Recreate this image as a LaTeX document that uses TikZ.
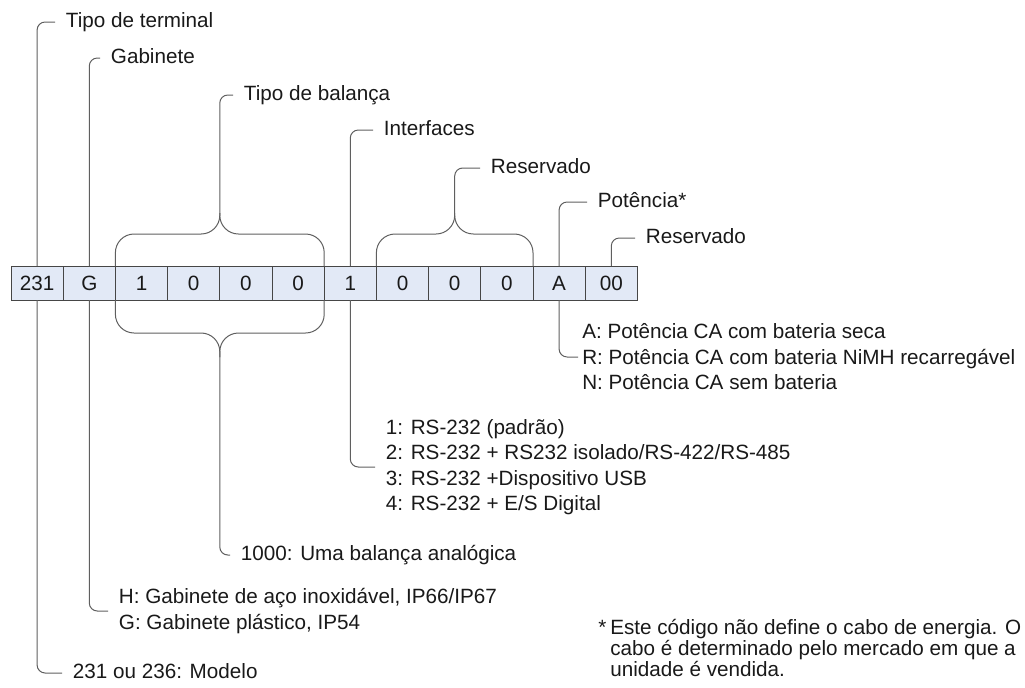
\documentclass[tikz,border=0pt]{standalone}
\usepackage{fontspec}
\setmainfont{Liberation Sans}
\usepackage{xcolor}
\definecolor{cellfill}{RGB}{226, 233, 246}
\definecolor{cellline}{RGB}{70, 70, 70}
\definecolor{leadgray}{RGB}{95, 95, 95}
\definecolor{textgray}{RGB}{25, 25, 25}
\usepackage{tikz}
\usetikzlibrary{positioning, calc}
\newcommand{\codefont}{\fontsize{15.5}{19.1}\selectfont}
\newcommand{\notefont}{\fontsize{15.5}{16.1}\selectfont}
\tikzset{
    cellbox/.style={
        draw=cellline,
        fill=cellfill,
        line width=0.7pt,
        minimum width=39.15pt,
        minimum height=25.5pt,
        inner sep=0pt,
        outer sep=0pt,
        text=textgray,
        font=\codefont
    },
    leader/.style={
        draw=leadgray,
        line width=0.75pt,
        rounded corners=6pt
    },
    brace/.style={
        draw=leadgray,
        line width=0.75pt,
        rounded corners=14pt
    },
    tag/.style={
        anchor=west,
        inner xsep=8pt,
        inner ysep=0pt,
        text height=11.6pt,
        text depth=3.1pt,
        text=textgray,
        font=\codefont
    },
    optlist/.style={
        anchor=west,
        inner xsep=8pt,
        inner ysep=0pt,
        align=left,
        text=textgray,
        font=\codefont
    }
}

\begin{document}
\begin{tikzpicture}[x=0.75pt, y=-0.75pt]
\useasboundingbox (0,0) rectangle (1025,687);

% ---------------------------------------------------------
% Code cells
% ---------------------------------------------------------
\node[cellbox] (c1) at (37.1,283) {231};
\node[cellbox, right=0pt of c1] (c2) {G};
\node[cellbox, right=0pt of c2] (c3) {1};
\node[cellbox, right=0pt of c3] (c4) {0};
\node[cellbox, right=0pt of c4] (c5) {0};
\node[cellbox, right=0pt of c5] (c6) {0};
\node[cellbox, right=0pt of c6] (c7) {1};
\node[cellbox, right=0pt of c7] (c8) {0};
\node[cellbox, right=0pt of c8] (c9) {0};
\node[cellbox, right=0pt of c9] (c10) {0};
\node[cellbox, right=0pt of c10] (c11) {A};
\node[cellbox, right=0pt of c11] (c12) {00};

% ---------------------------------------------------------
% Labels above
% ---------------------------------------------------------
\node[tag] (terminal) at (55,22) {Tipo de terminal};
\node[tag] (gabinete) at (100,58) {Gabinete};
\node[tag] (balanca) at (233,95) {Tipo de balança};
\node[tag] (interfaces) at (373,130) {Interfaces};
\node[tag] (reservA) at (480,168) {Reservado};
\node[tag] (potencia) at (587,202) {Potência*};
\node[tag] (reservB) at (635,238) {Reservado};

% ---------------------------------------------------------
% Options below
% ---------------------------------------------------------
\node[optlist, inner xsep=3pt] (potopts) at (578,357) {%
    A: Potência CA com bateria seca\\
    R: Potência CA com bateria NiMH recarregável\\
    N: Potência CA sem bateria};
\node[optlist] (ifopts) at (375,467) {%
    1: RS-232 (padrão)\\
    2: RS-232 + RS232 isolado/RS-422/RS-485\\
    3: RS-232 +Dispositivo USB\\
    4: RS-232 + E/S Digital};
\node[tag] (balopt) at (230,555) {1000: Uma balança analógica};
\node[optlist] (gabopts) at (108,611) {%
    H: Gabinete de aço inoxidável, IP66/IP67\\
    G: Gabinete plástico, IP54};
\node[tag] (modelo) at (62,673) {231 ou 236: Modelo};

% footnote
\node[anchor=west, inner sep=0pt, align=left, text=textgray, font=\notefont] (nota) at (598,648) {%
    \makebox[9pt][l]{*}Este código não define o cabo de energia. O\\
    \hspace*{9pt}cabo é determinado pelo mercado em que a\\
    \hspace*{9pt}unidade é vendida.};

% ---------------------------------------------------------
% Braces
% ---------------------------------------------------------
\coordinate (balup) at ($(c3.north west)!0.5!(c6.north east) + (0,-32)$);
\coordinate (baltip) at ($(balup) + (0,-21)$);
\coordinate (baldown) at ($(c3.south west)!0.5!(c6.south east) + (0,33)$);
\coordinate (balbot) at ($(baldown) + (0,24)$);
\coordinate (resup) at ($(c8.north west)!0.5!(c10.north east) + (0,-32)$);
\coordinate (restip) at ($(resup) + (0,-21)$);

\draw[brace] (c3.north west) |- (balup) -- (baltip);
\draw[brace] (c6.north east) |- (balup) -- (baltip);
\draw[brace] (c3.south west) |- (baldown) -- (balbot);
\draw[brace] (c6.south east) |- (baldown) -- (balbot);
\draw[brace] (c8.north west) |- (resup) -- (restip);
\draw[brace] (c10.north east) |- (resup) -- (restip);

% ---------------------------------------------------------
% Leaders
% ---------------------------------------------------------
\draw[leader] (c1.north) |- (terminal.west);
\draw[leader] (c2.north) |- (gabinete.west);
\draw[leader] (baltip) |- (balanca.west);
\draw[leader] (c7.north) |- (interfaces.west);
\draw[leader] (restip) |- (reservA.west);
\draw[leader] (c11.north) |- (potencia.west);
\draw[leader] (c12.north) |- (reservB.west);

\draw[leader] (c11.south) |- (potopts.west);
\draw[leader] (c7.south) |- (ifopts.west);
\draw[leader] (balbot) |- (balopt.west);
\draw[leader] (c2.south) |- (gabopts.west);
\draw[leader] (c1.south) |- (modelo.west);

\end{tikzpicture}
\end{document}
